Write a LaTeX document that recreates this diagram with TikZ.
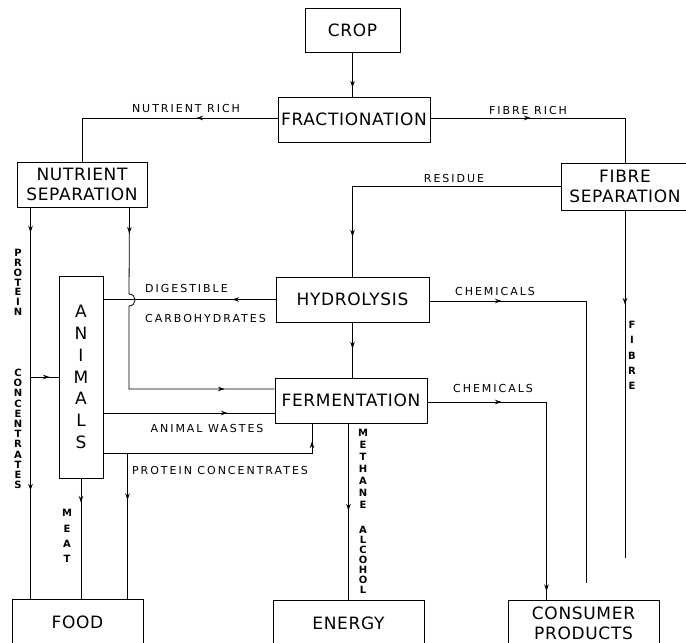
\documentclass[tikz,border=0pt]{standalone}
\usepackage{fontspec}
\setmainfont{DejaVu Sans}
\newfontfamily\boxfont[LetterSpace=4]{DejaVu Sans}
\newfontfamily\lblfont[LetterSpace=18]{DejaVu Sans}
\newfontfamily\vfont{DejaVu Sans}
\usetikzlibrary{arrows.meta,decorations.markings}
\tikzset{
  stage/.style={draw, line width=1pt, inner sep=0pt, align=center,
    font=\boxfont\fontsize{17}{20}\selectfont},
  flow/.style={line width=0.8pt},
  amark/.style={postaction={decorate, decoration={markings,
    mark=at position #1 with {\arrow{Stealth[length=6.5pt,width=4.5pt]}}}}},
  lbl/.style={inner sep=0pt, font=\lblfont\fontsize{11}{13}\selectfont},
  vlbl/.style={inner sep=0pt, align=center, font=\vfont\bfseries\fontsize{10}{#1}\selectfont},
}
\begin{document}
\begin{tikzpicture}[x=1pt, y=-1pt]
\useasboundingbox (0,0) rectangle (686,643);
\fill[white] (0,0) rectangle (686,643);
\clip (0,0) rectangle (686,643);

% boxes
\node[stage, minimum width=95pt, minimum height=44pt] (crop) at (352.5,30) {CROP};
\node[stage, minimum width=152pt, minimum height=45pt] (frac) at (354,119.5) {FRACTIONATION};
\node[stage, minimum width=130pt, minimum height=45pt] (nsep) at (82,184.5) {NUTRIENT\\SEPARATION};
\node[stage, minimum width=128pt, minimum height=47pt] (fsep) at (625,186.5) {FIBRE\\SEPARATION};
\node[stage, minimum width=153pt, minimum height=45pt] (hydro) at (352.5,299.5) {HYDROLYSIS};
\node[stage, minimum width=152pt, minimum height=45pt] (ferm) at (351,400.5) {FERMENTATION};
\node[stage, minimum width=44pt, minimum height=202pt,
      font=\boxfont\fontsize{17}{21.8}\selectfont] (animals) at (81,377) {A\\N\\I\\M\\A\\L\\S};
\node[stage, minimum width=131pt, minimum height=46pt] (food) at (77.5,622) {FOOD};
\node[stage, minimum width=151pt, minimum height=46pt] (energy) at (348.5,623) {ENERGY};
\node[stage, minimum width=151pt, minimum height=46pt] (consumer) at (583.5,623) {CONSUMER\\PRODUCTS};

% helper coordinates
\coordinate (fibreEnd) at (625,558);
\coordinate (chemEnd) at (586,583);
\coordinate (nsL) at ([xshift=14pt]nsep.south west);
\coordinate (nsR) at ([xshift=-18pt]nsep.south east);
\coordinate (hopA) at (129,294);
\coordinate (hopB) at (129,306);
\coordinate (nsCorner) at (129,389);
\coordinate (awL) at ([yshift=-36pt]animals.east);
\coordinate (pcL) at ([yshift=-76pt]animals.east);
\coordinate (pcJ) at ([xshift=24pt]pcL);
\coordinate (fermPC) at ([xshift=-39pt]ferm.south);
\coordinate (consIn) at ([xshift=39pt]consumer.north west);

% connectors
\draw[flow, amark=35pt] (crop.south) -- (crop.south |- frac.north);
\draw[flow, amark=81pt] ([yshift=1.5pt]frac.west) -| (nsep.north);
\draw[flow, amark=100pt] ([yshift=1.5pt]frac.east) -| (fsep.north);
\draw[flow, amark=258pt] (fsep.west) -| (hydro.north);
\draw[flow, amark=94pt] (fsep.south) -- (fibreEnd);
\draw[flow, amark=72pt] ([yshift=-1.5pt]hydro.east) -| (chemEnd);
\draw[flow, amark=26pt] (hydro.south) -- (hydro.south |- ferm.north);
\draw[flow, amark=74pt, amark=308pt] ([yshift=-1.5pt]ferm.east) -| (consIn);
\draw[flow, amark=87pt] (energy.north |- ferm.south) -- (energy.north);
\draw[flow, amark=25pt, amark=283pt] (nsL) -- (nsL |- food.north);
\draw[flow, amark=19pt] (nsL |- animals.west) -- (animals.west);
\draw[flow, amark=26pt, amark=284pt] (nsR) -- (hopA)
   .. controls ([xshift=8pt]hopA) and ([xshift=8pt]hopB) .. (hopB)
   -- (nsCorner) -- (nsCorner -| ferm.west);
\draw[flow, amark=43pt] (hydro.west) -- (hydro.west -| animals.east);
\draw[flow, amark=124pt] (awL) -- (awL -| ferm.west);
\draw[flow, amark=220pt] (pcL) -| (fermPC);
\draw[flow, amark=47pt] (pcJ) -- (pcJ |- food.north);
\draw[flow, amark=24pt] (animals.south) -- (animals.south |- food.north);

% labels
\node[lbl] (lnr) at (186,108) {NUTRIENT RICH};
\node[lbl] (lfr) at (528,110) {FIBRE RICH};
\node[lbl] (lres) at (454,178) {RESIDUE};
\node[lbl, anchor=west] (ldig) at (145,288) {DIGESTIBLE};
\node[lbl, anchor=west] (lcarb) at (145,318) {CARBOHYDRATES};
\node[lbl] (lch1) at (495,291) {CHEMICALS};
\node[lbl] (lch2) at (493,388) {CHEMICALS};
\node[lbl] (law) at (207,428) {ANIMAL WASTES};
\node[lbl] (lpc) at (220,470) {PROTEIN CONCENTRATES};

% vertical labels
\node[vlbl=9.8pt] (vp1) at (18,282.4) {P\\R\\O\\T\\E\\I\\N};
\node[vlbl=10.2pt] (vp2) at (18,429) {C\\O\\N\\C\\E\\N\\T\\R\\A\\T\\E\\S};
\node[vlbl=12pt] (vm1) at (363,469) {M\\E\\T\\H\\A\\N\\E};
\node[vlbl=10pt] (vm2) at (363,560) {A\\L\\C\\O\\H\\O\\L};
\node[vlbl=15.25pt] (vf) at (632,355.5) {F\\I\\B\\R\\E};
\node[vlbl=15.3pt] (vmeat) at (67,536) {M\\E\\A\\T};
\end{tikzpicture}
\end{document}
